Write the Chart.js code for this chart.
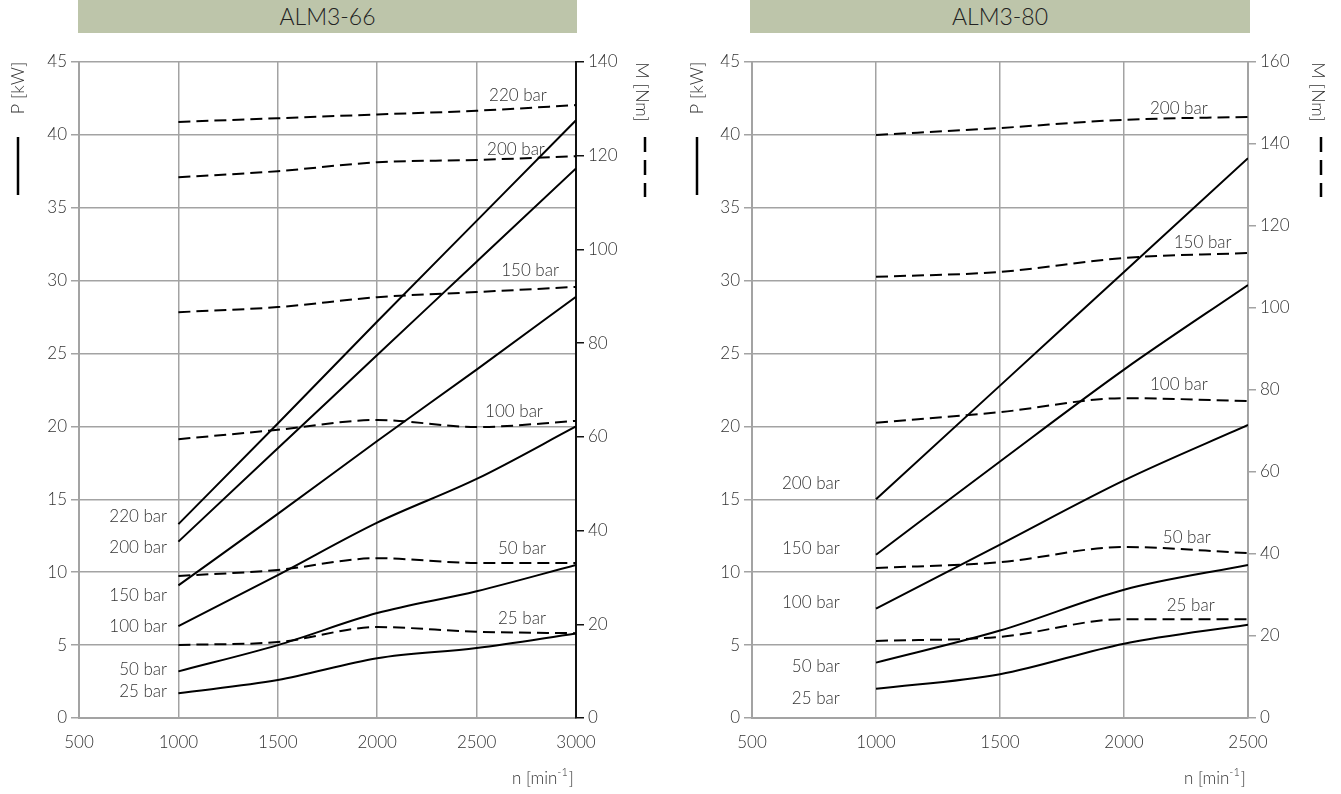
<!DOCTYPE html>
<html>
<head>
<meta charset="utf-8">
<script src="https://cdn.jsdelivr.net/npm/chart.js@4"></script>
<style>
    body { margin: 0; background: #fff; width: 1341px; height: 794px; position: relative; overflow: hidden; }
    .bar { position: absolute; top: 0; height: 33px; background: #bdc5aa; color: #222;
           font: 300 23px Lato, "Open Sans", sans-serif; text-align: center; line-height: 33px; }
    canvas { position: absolute; top: 0; }
</style>
</head>
<body>
<div class="bar" style="left:78px;width:499px">ALM3-66</div>
<div class="bar" style="left:750px;width:500px">ALM3-80</div>
<canvas id="c66" width="680" height="794" style="left:0"></canvas>
<canvas id="c80" width="661" height="794" style="left:680px"></canvas>
<script>
    // speed n [min-1]
    var n66 = [1000, 1500, 2000, 2500, 3000];
    var n80 = [1000, 1500, 2000, 2500];
    var pressures66 = ["220 bar", "200 bar", "150 bar", "100 bar", "50 bar", "25 bar"];
    var pressures80 = ["200 bar", "150 bar", "100 bar", "50 bar", "25 bar"];

    // ALM3-66 power P [kW]
    var p66_220 = [13.3, 20.2, 27.2, 34.1, 41.0];
    var p66_200 = [12.1, 18.5, 24.9, 31.3, 37.7];
    var p66_150 = [9.1, 14.0, 19.0, 23.9, 28.9];
    var p66_100 = [6.3, 9.8, 13.4, 16.4, 20.0];
    var p66_50 = [3.2, 5.0, 7.2, 8.7, 10.5];
    var p66_25 = [1.7, 2.6, 4.1, 4.8, 5.8];
    // ALM3-66 torque M [Nm]
    var m66_220 = [127.2, 128.0, 128.8, 129.6, 130.8];
    var m66_200 = [115.4, 116.7, 118.6, 119.1, 119.9];
    var m66_150 = [86.6, 87.7, 89.8, 90.9, 92.0];
    var m66_100 = [59.5, 61.5, 63.6, 62.1, 63.4];
    var m66_50 = [30.3, 31.6, 34.1, 33.1, 33.1];
    var m66_25 = [15.6, 16.2, 19.4, 18.4, 18.1];

    // ALM3-80 power P [kW]
    var p80_200 = [15.0, 22.8, 30.6, 38.4];
    var p80_150 = [11.2, 17.6, 23.9, 29.7];
    var p80_100 = [7.5, 11.9, 16.3, 20.1];
    var p80_50 = [3.8, 6.0, 8.8, 10.5];
    var p80_25 = [2.0, 3.0, 5.1, 6.4];
    // ALM3-80 torque M [Nm]
    var m80_200 = [142.2, 143.9, 145.9, 146.6];
    var m80_150 = [107.6, 108.8, 112.2, 113.4];
    var m80_100 = [72.0, 74.6, 78.0, 77.3];
    var m80_50 = [36.6, 38.0, 41.7, 40.2];
    var m80_25 = [18.8, 19.8, 24.1, 24.1];

    // curve labels: [n, P, text]
    var labels66 = [
        [2708, 42.7, "220 bar"], [2698, 39.0, "200 bar"], [2769, 30.7, "150 bar"],
        [2688, 21.0, "100 bar"], [2728, 11.6, "50 bar"], [2728, 6.8, "25 bar"]
    ];
    var side66 = [13.85, 11.7, 8.4, 6.3, 3.35, 1.85];
    var labels80 = [
        [2221, 41.8, "200 bar"], [2317, 32.6, "150 bar"], [2221, 22.9, "100 bar"],
        [2253, 12.35, "50 bar"], [2269, 7.7, "25 bar"]
    ];
    var side80 = [16.1, 11.66, 7.9, 3.5, 1.37];

    var FONT = 'Lato, "Open Sans", sans-serif';
    var GRID = "#a3a3a3";
    var TXT = "#333";

    function pts(xs, ys) {
        return xs.map(function(x, i) { return {x: x, y: ys[i]}; });
    }

    function makeSets(xs, power, torque) {
        var sets = [];
        power.forEach(function(p) {
            sets.push({data: pts(xs, p), yAxisID: "y", borderColor: "#000", borderWidth: 2,
                pointRadius: 0, cubicInterpolationMode: "monotone", fill: false});
        });
        torque.forEach(function(m) {
            sets.push({data: pts(xs, m), yAxisID: "y2", borderColor: "#000", borderWidth: 2,
                borderDash: [12, 6], pointRadius: 0, cubicInterpolationMode: "monotone", fill: false});
        });
        return sets;
    }

    function decorations(curveLabels, sideP, sideNames, sideX, pX, mX) {
        return {
            id: "decor",
            afterDraw: function(chart) {
                var ctx = chart.ctx, sx = chart.scales.x, sy = chart.scales.y, a = chart.chartArea;
                ctx.save();
                ctx.fillStyle = TXT;
                ctx.font = "300 17px " + FONT;
                ctx.textBaseline = "middle";
                ctx.textAlign = "center";
                curveLabels.forEach(function(l) {
                    ctx.fillText(l[2], sx.getPixelForValue(l[0]), sy.getPixelForValue(l[1]));
                });
                ctx.textAlign = "right";
                sideP.forEach(function(p, i) {
                    ctx.fillText(sideNames[i], sx.getPixelForValue(sideX), sy.getPixelForValue(p));
                });

                // axis names
                ctx.font = "300 18px " + FONT;
                ctx.textAlign = "center";
                ctx.save();
                ctx.translate(pX, 88);
                ctx.rotate(-Math.PI / 2);
                ctx.fillText("P [kW]", 0, 0);
                ctx.restore();
                ctx.save();
                ctx.translate(mX, 92);
                ctx.rotate(Math.PI / 2);
                ctx.fillText("M [Nm]", 0, 0);
                ctx.restore();

                ctx.strokeStyle = "#000";
                ctx.lineWidth = 2.5;
                ctx.beginPath();
                ctx.moveTo(pX, 137); ctx.lineTo(pX, 195);
                ctx.stroke();
                ctx.setLineDash([15, 8]);
                ctx.beginPath();
                ctx.moveTo(mX + 3, 137); ctx.lineTo(mX + 3, 197);
                ctx.stroke();
                ctx.setLineDash([]);

                // n [min-1]
                ctx.textAlign = "left";
                ctx.textBaseline = "alphabetic";
                ctx.font = "300 17px " + FONT;
                var base = 784, x0 = a.right - 64;
                ctx.fillText("n [min", x0, base);
                var w = ctx.measureText("n [min").width;
                ctx.font = "300 11px " + FONT;
                ctx.fillText("-1", x0 + w, base - 8);
                var w2 = ctx.measureText("-1").width;
                ctx.font = "300 17px " + FONT;
                ctx.fillText("]", x0 + w + w2 + 1, base);
                ctx.restore();
            }
        };
    }

    function options(xmax, mmax, mstep, rightW, axisW, rightColor) {
        var tickFont = {family: FONT, size: 17, weight: 300};
        return {
            responsive: false,
            animation: false,
            layout: {padding: {top: 62, left: 0, right: 0, bottom: 0}},
            plugins: {legend: {display: false}, tooltip: {enabled: false}},
            scales: {
                x: {
                    type: "linear", min: 500, max: xmax,
                    ticks: {stepSize: 500, padding: 14, color: TXT, font: tickFont, maxRotation: 0,
                        callback: function(v) { return String(v); }},
                    grid: {color: GRID, lineWidth: 1.5, drawTicks: false},
                    border: {color: GRID, width: 2},
                    afterFit: function(s) { s.height = 76; }
                },
                y: {
                    position: "left", min: 0, max: 45,
                    ticks: {stepSize: 5, padding: 4, color: TXT, font: tickFont},
                    grid: {color: GRID, lineWidth: 1.5, tickLength: 8},
                    border: {color: GRID, width: 2},
                    afterFit: function(s) { s.width = axisW; }
                },
                y2: {
                    position: "right", min: 0, max: mmax,
                    ticks: {stepSize: mstep, padding: 4, color: TXT, font: tickFont},
                    grid: {drawOnChartArea: false, color: rightColor, lineWidth: 1.5, tickLength: 8},
                    border: {color: rightColor, width: 2},
                    afterFit: function(s) { s.width = rightW; }
                }
            }
        };
    }

    new Chart(document.getElementById("c66").getContext("2d"), {
        type: "line",
        data: {datasets: makeSets(n66,
            [p66_220, p66_200, p66_150, p66_100, p66_50, p66_25],
            [m66_220, m66_200, m66_150, m66_100, m66_50, m66_25])},
        options: options(3000, 140, 20, 104, 79, "#111"),
        plugins: [decorations(labels66, side66, pressures66, 943, 18, 642)]
    });

    new Chart(document.getElementById("c80").getContext("2d"), {
        type: "line",
        data: {datasets: makeSets(n80,
            [p80_200, p80_150, p80_100, p80_50, p80_25],
            [m80_200, m80_150, m80_100, m80_50, m80_25])},
        options: options(2500, 160, 20, 93, 72, GRID),
        plugins: [decorations(labels80, side80, pressures80, 854, 17, 638)]
    });
</script>
</body>
</html>
